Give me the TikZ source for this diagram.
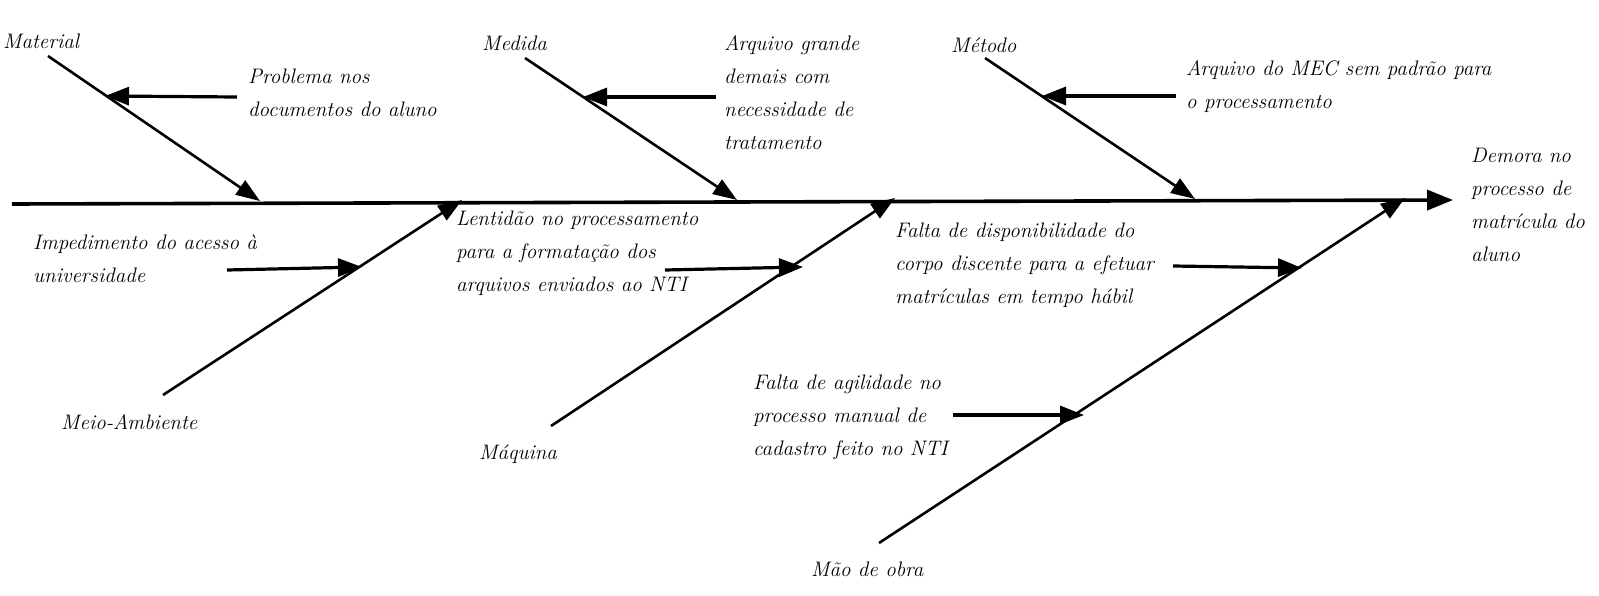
\documentclass[tikz,border=0pt]{standalone}
\usetikzlibrary{arrows.meta}
\begin{document}
\begin{tikzpicture}[x=1pt, y=-1pt,
    bone/.style={line width=2.6pt, -{Triangle[length=24pt, width=17pt]}},
    cause/.style={line width=3.2pt, -{Triangle[length=24pt, width=18pt]}},
    lbl/.style={anchor=west, inner sep=0pt, font=\fontsize{21}{33}\selectfont\itshape},
    txt/.style={anchor=north west, inner sep=0pt, align=left, font=\fontsize{21}{33}\selectfont\itshape}]
    \useasboundingbox (0,0) rectangle (1599,596);

    % Spine
    \coordinate (tail) at (12,204);
    \coordinate (head) at (1453,200);
    \draw[line width=3.6pt, -{Triangle[length=26pt, width=20pt]}] (tail) -- (head);
    \node[txt] (effect) at (1471,148) {Demora no\\processo de\\matrícula do\\aluno};

    % Upper bones
    \node[lbl] (material) at (3,41) {Material};
    \coordinate (mat0) at (48,56);
    \coordinate (mat1) at (260,201);
    \draw[bone] (mat0) -- (mat1);

    \node[lbl] (medida) at (482,43) {Medida};
    \coordinate (med0) at (525,58);
    \coordinate (med1) at (737,200);
    \draw[bone] (med0) -- (med1);

    \node[lbl] (metodo) at (951,45) {Método};
    \coordinate (met0) at (985,58);
    \coordinate (met1) at (1195,199);
    \draw[bone] (met0) -- (met1);

    % Lower bones
    \node[lbl] (meio) at (61,422) {Meio-Ambiente};
    \coordinate (mei0) at (163,395);
    \coordinate (mei1) at (462,200);
    \draw[bone] (mei0) -- (mei1);

    \node[lbl] (maquina) at (479,454) {Máquina};
    \coordinate (maq0) at (551,426);
    \coordinate (maq1) at (895,198);
    \draw[bone] (maq0) -- (maq1);

    \node[lbl] (maoobra) at (811,569) {Mão de obra};
    \coordinate (mao0) at (879,543);
    \coordinate (mao1) at (1405,198);
    \draw[bone] (mao0) -- (mao1);

    % Causes on the upper bones
    \node[txt] (problema) at (248,69) {Problema nos\\documentos do aluno};
    \coordinate (pro0) at (237,97);
    \coordinate (pro1) at (105,96);
    \draw[cause] (pro0) -- (pro1);

    \node[txt] (arqgrande) at (724,35) {Arquivo grande\\demais com\\necessidade de\\tratamento};
    \coordinate (arq0) at (716,97);
    \coordinate (arq1) at (583,97);
    \draw[cause] (arq0) -- (arq1);

    \node[txt] (arqmec) at (1186,60) {Arquivo do MEC sem padrão para\\o processamento};
    \coordinate (mec0) at (1176,96);
    \coordinate (mec1) at (1042,96);
    \draw[cause] (mec0) -- (mec1);

    % Causes on the lower bones
    \node[txt] (impedimento) at (33,235) {Impedimento do acesso à\\universidade};
    \coordinate (imp0) at (227,270);
    \coordinate (imp1) at (362,267);
    \draw[cause] (imp0) -- (imp1);

    \node[txt] (lentidao) at (456,211) {Lentidão no processamento\\para a formatação dos\\arquivos enviados ao NTI};
    \coordinate (len0) at (665,270);
    \coordinate (len1) at (803,267);
    \draw[cause] (len0) -- (len1);

    \node[txt] (disponib) at (895,223) {Falta de disponibilidade do\\corpo discente para a efetuar\\matrículas em tempo hábil};
    \coordinate (dis0) at (1173,266);
    \coordinate (dis1) at (1302,268);
    \draw[cause] (dis0) -- (dis1);

    \node[txt] (agilidade) at (753,375) {Falta de agilidade no\\processo manual de\\cadastro feito no NTI};
    \coordinate (agi0) at (953,415);
    \coordinate (agi1) at (1084,415);
    \draw[cause] (agi0) -- (agi1);
\end{tikzpicture}
\end{document}
